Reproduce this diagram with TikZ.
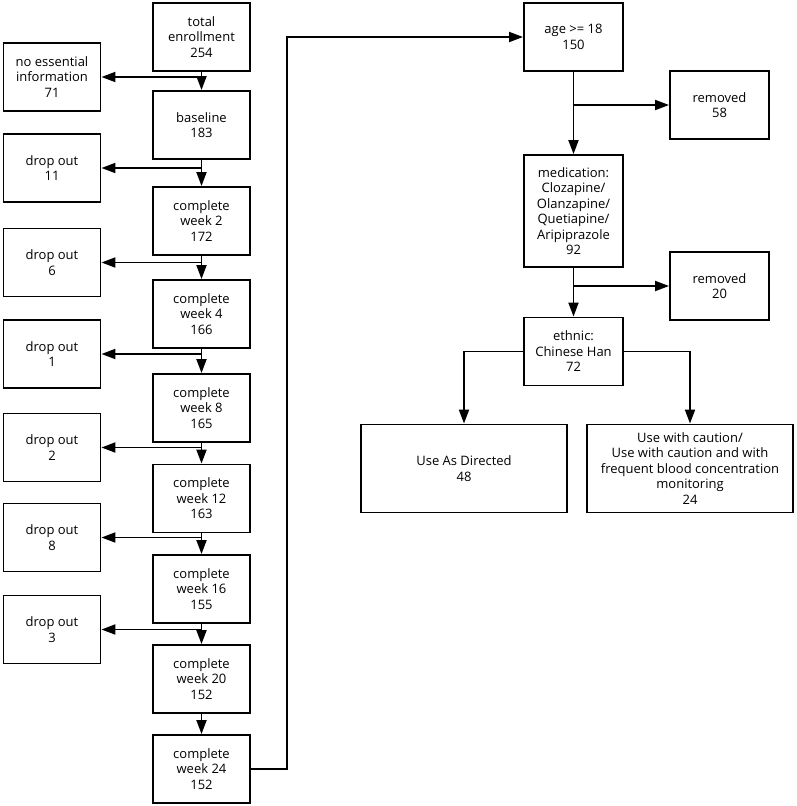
\documentclass[tikz,border=0pt]{standalone}
\usepackage{fontspec}
\setmainfont{Open Sans}
\usetikzlibrary{arrows.meta}
\begin{document}
\begin{tikzpicture}[x=1pt,y=-1pt,
  box/.style={draw,line width=1.9pt,align=center,inner sep=2pt,minimum width=97pt,minimum height=68pt,font=\fontsize{13}{15.5}\selectfont},
  wide/.style={box,minimum width=99pt},
  flow/.style={line width=1.9pt,-{Triangle[length=14pt,width=10pt]}}]
\useasboundingbox (0,0) rectangle (796,806);
\node[box] (total) at (201.5,37) {total\\enrollment\\254};
\node[box] (base) at (201.5,125) {baseline\\183};
\node[box] (wk2) at (201.5,221) {complete\\week 2\\172};
\node[box] (wk4) at (201.5,314) {complete\\week 4\\166};
\node[box] (wk8) at (201.5,408) {complete\\week 8\\165};
\node[box] (wk12) at (201.5,498.5) {complete\\week 12\\163};
\node[box] (wk16) at (201.5,589) {complete\\week 16\\155};
\node[box] (wk20) at (201.5,679) {complete\\week 20\\152};
\node[box] (wk24) at (201.5,769) {complete\\week 24\\152};
\node[box] (noinfo) at (52,77) {no essential\\information\\71};
\node[box] (out1) at (52,168) {drop out\\11};
\node[box] (out2) at (52,262.5) {drop out\\6};
\node[box] (out3) at (52,354) {drop out\\1};
\node[box] (out4) at (52,447.5) {drop out\\2};
\node[box] (out5) at (52,537.5) {drop out\\8};
\node[box] (out6) at (52,629.5) {drop out\\3};
\node[wide] (age) at (573.5,37) {age >= 18\\150};
\node[wide] (rm1) at (719.5,105) {removed\\58};
\node[wide,minimum height=112pt] (med) at (573.5,211) {medication:\\Clozapine/\\Olanzapine/\\Quetiapine/\\Aripiprazole\\92};
\node[wide] (rm2) at (719.5,286) {removed\\20};
\node[wide] (eth) at (573.5,351.5) {ethnic:\\Chinese Han\\72};
\node[box,minimum width=206pt,minimum height=88pt] (usedir) at (464,468.5) {Use As Directed\\48};
\node[box,minimum width=206pt,minimum height=88pt] (caution) at (690,468.5) {Use with caution/\\Use with caution and with\\frequent blood concentration\\monitoring\\24};
\draw[flow] (total) -- (base);
\draw[flow] (base) -- (wk2);
\draw[flow] (wk2) -- (wk4);
\draw[flow] (wk4) -- (wk8);
\draw[flow] (wk8) -- (wk12);
\draw[flow] (wk12) -- (wk16);
\draw[flow] (wk16) -- (wk20);
\draw[flow] (wk20) -- (wk24);
\draw[flow] (total.south |- noinfo) -- (noinfo);
\draw[flow] (base.south |- out1) -- (out1);
\draw[flow] (wk2.south |- out2) -- (out2);
\draw[flow] (wk4.south |- out3) -- (out3);
\draw[flow] (wk8.south |- out4) -- (out4);
\draw[flow] (wk12.south |- out5) -- (out5);
\draw[flow] (wk16.south |- out6) -- (out6);
\draw[flow] (wk24) -- ++(85.5,0) |- (age);
\draw[flow] (age) -- (med);
\draw[flow] (age.south |- rm1) -- (rm1);
\draw[flow] (med) -- (eth);
\draw[flow] (med.south |- rm2) -- (rm2);
\draw[flow] (eth.west) -| (usedir.north);
\draw[flow] (eth.east) -| (caution.north);
\end{tikzpicture}
\end{document}
